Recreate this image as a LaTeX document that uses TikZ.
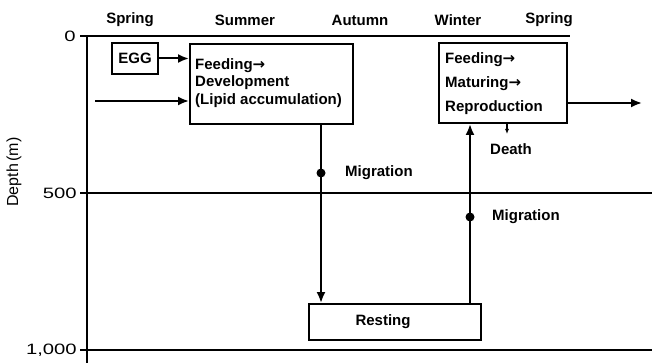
\documentclass[tikz,border=0pt]{standalone}
\usepackage{fontspec}
\setmainfont{Liberation Sans}
\newfontfamily\arrowfont{DejaVu Sans}
\newcommand{\rar}{{\arrowfont\bfseries →}}
\usetikzlibrary{arrows.meta}
\begin{document}
\begin{tikzpicture}[x=1pt,y=-1pt,
  lbl/.style={font=\fontsize{15}{17}\selectfont\bfseries, inner sep=0pt},
  tick/.style={font=\fontsize{15}{17}\selectfont, inner sep=0pt, xscale=1.35},
  box/.style={draw, line width=2pt, inner sep=0pt},
  conn/.style={line width=2pt, -{Latex[length=11pt,width=9pt]}},
  axis/.style={line width=2.6pt},
  grid/.style={line width=1.6pt},
  dot/.style={circle, fill, inner sep=0pt, minimum size=9pt}]
\useasboundingbox (0,0) rectangle (652,363);
% axes
\draw[axis] (87,36) -- (87,363);
\draw[grid] (80,36) -- (570,36);
\draw[grid] (80,193) -- (652,193);
\draw[grid] (80,350) -- (652,350);
\node[tick, anchor=east] (t0) at (76,36) {0};
\node[tick, anchor=east] (t500) at (77,193) {500};
\node[tick, anchor=east] (t1000) at (77,350) {1,000};
\node[font=\fontsize{16}{18}\selectfont, rotate=90, inner sep=0pt] (depth) at (14,172) {Depth\,(m)};
% seasons
\node[lbl] (s1) at (130,20) {Spring};
\node[lbl] (s2) at (245,20) {Summer};
\node[lbl] (s3) at (360,20) {Autumn};
\node[lbl] (s4) at (458,20) {Winter};
\node[lbl] (s5) at (549,20) {Spring};
% boxes
\node[box, lbl, draw, line width=2pt, minimum width=46pt, minimum height=31pt] (egg) at (135,58.5) {EGG};
\node[box, minimum width=163pt, minimum height=80pt] (b1) at (271.5,84) {};
\node[lbl, anchor=west, align=left, font=\fontsize{15}{17.5}\selectfont\bfseries] (t1) at (195,83) {Feeding\rar\\Development\\(Lipid accumulation)};
\node[box, minimum width=128pt, minimum height=80pt] (b2) at (503,83) {};
\node[lbl, anchor=west, align=left, font=\fontsize{15}{24}\selectfont\bfseries] (t2) at (445,84) {Feeding\rar\\Maturing\rar\\Reproduction};
\node[box, minimum width=172pt, minimum height=36pt] (rest) at (395,322) {};
\node[lbl] (rt) at (383,322) {Resting};
% connectors
\coordinate (in) at (95,101);
\coordinate (out) at (642,103);
\draw[conn] (egg.east) -- (egg.east -| b1.west);
\draw[conn] (in) -- (in -| b1.west);
\draw[conn] (b2.east |- out) -- (out);
\coordinate (d1) at (321,124);
\coordinate (u1) at (470,304);
\draw[conn] (d1 |- b1.south) -- (d1 |- rest.north);
\draw[conn] (u1 |- rest.north) -- (u1 |- b2.south);
\node[dot] (m1) at (321,173) {};
\node[dot] (m2) at (470,217) {};
\node[lbl, anchor=west] (ml1) at (345,173) {Migration};
\node[lbl, anchor=west] (ml2) at (492,217) {Migration};
\node[lbl] (death) at (511,149) {Death};
\coordinate (dx) at (507,134);
\draw[line width=1.2pt, -{Latex[length=5pt,width=4pt]}] (dx |- b2.south) -- (dx);
\end{tikzpicture}
\end{document}
